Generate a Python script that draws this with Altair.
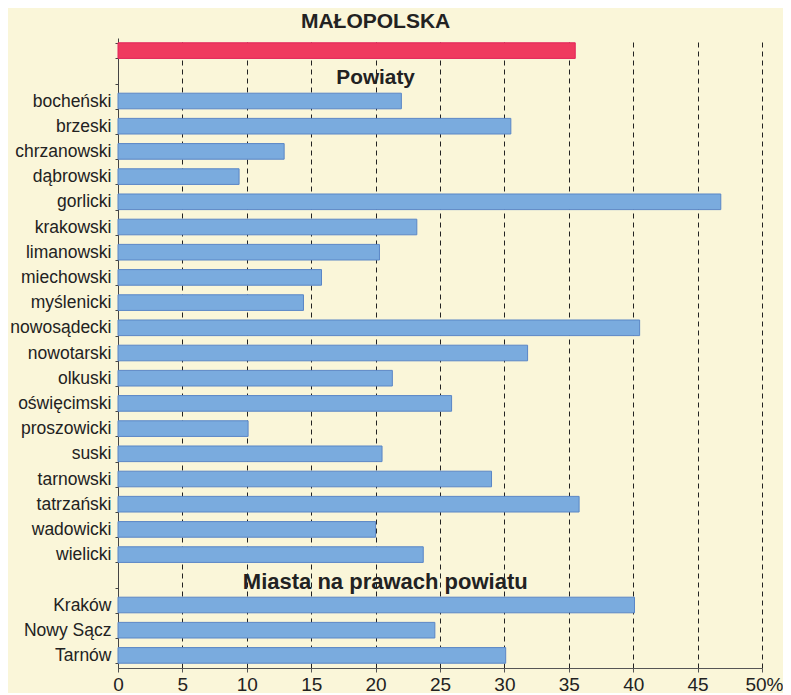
import altair as alt
import pandas as pd

# ---- data ----
total_label = "MAŁOPOLSKA"
total_value = 35.5

powiaty = ["bocheński", "brzeski", "chrzanowski", "dąbrowski", "gorlicki", "krakowski",
           "limanowski", "miechowski", "myślenicki", "nowosądecki", "nowotarski", "olkuski",
           "oświęcimski", "proszowicki", "suski", "tarnowski", "tatrzański", "wadowicki",
           "wielicki"]
powiaty_values = [22.0, 30.5, 12.9, 9.4, 46.8, 23.2, 20.3, 15.8, 14.4, 40.5, 31.8, 21.3,
                  25.9, 10.1, 20.5, 29.0, 35.8, 20.0, 23.7]

miasta = ["Kraków", "Nowy Sącz", "Tarnów"]
miasta_values = [40.1, 24.6, 30.1]

header_powiaty = "Powiaty"
header_miasta = "Miasta na prawach powiatu"
x_ticks = [0, 5, 10, 15, 20, 25, 30, 35, 40, 45, 50]

# row keys (blank labels for special rows)
ROW_TOTAL = " "
ROW_POW = "  "
ROW_MIA = "   "
order = [ROW_TOTAL, ROW_POW] + powiaty + [ROW_MIA] + miasta

bars = pd.DataFrame({
    "row": [ROW_TOTAL] + powiaty + miasta,
    "value": [total_value] + powiaty_values + miasta_values,
    "group": ["total"] + ["unit"] * (len(powiaty) + len(miasta)),
})
headers = pd.DataFrame({
    "row": [ROW_POW, ROW_MIA],
    "x": [20.0, 20.75],
    "text": [header_powiaty, header_miasta],
    "size": [20.8, 22.0],
})
title_df = pd.DataFrame({"x": [20.0], "text": [total_label]})

FONT = "Liberation Sans"

xscale = alt.Scale(domain=[0, 50], nice=False)
yscale = alt.Scale(domain=order, paddingInner=0.38, paddingOuter=0.19)

bar_layer = alt.Chart(bars).mark_bar(strokeWidth=1).encode(
    x=alt.X("value:Q", scale=xscale, axis=alt.Axis(
        values=x_ticks, title=None, grid=True, gridDash=[5, 4], gridColor="#222222",
        gridWidth=1, domainColor="#555555", tickColor="#555555", tickSize=4,
        labelFontSize=19, labelFont=FONT, labelColor="#222222", labelPadding=3,
        labelFlush=False,
        labelExpr="datum.value == 50 ? '50%' : datum.label",
        labelOffset={"condition": {"test": "datum.value == 50", "value": 2}, "value": 0},
    )),
    y=alt.Y("row:N", scale=yscale, sort=order, axis=alt.Axis(
        title=None, tickBand="extent", tickSize=3, tickColor="#444444",
        domainColor="#444444", labelFontSize=17.5, labelFont=FONT, labelColor="#222222",
        labelPadding=4,
    )),
    color=alt.Color("group:N", scale=alt.Scale(domain=["total", "unit"],
                                                range=["#EF3A5F", "#7AABDE"]), legend=None),
    stroke=alt.Stroke("group:N", scale=alt.Scale(domain=["total", "unit"],
                                                  range=["#E2245A", "#5A86C6"]), legend=None),
)

header_layer = alt.Chart(headers).mark_text(
    font=FONT, fontWeight="bold", color="#222222", baseline="middle", dy=2
).encode(
    x=alt.X("x:Q", scale=xscale),
    y=alt.Y("row:N", scale=yscale, sort=order),
    text="text:N",
    size=alt.Size("size:Q", scale=None, legend=None),
)

title_layer = alt.Chart(title_df).mark_text(
    font=FONT, fontSize=21, fontWeight="bold", color="#222222", baseline="middle"
).encode(
    x=alt.X("x:Q", scale=xscale),
    y=alt.value(-16),
    text="text:N",
)

chart = alt.layer(bar_layer, header_layer, title_layer).properties(
    width=644, height=630,
    padding={"left": 110, "top": 30, "right": 21, "bottom": 25},
    autosize="none",
    background="#FAF6D9",
).configure_view(stroke=None)

chart.save("out.html", embed_options={"renderer": "svg", "actions": False})
